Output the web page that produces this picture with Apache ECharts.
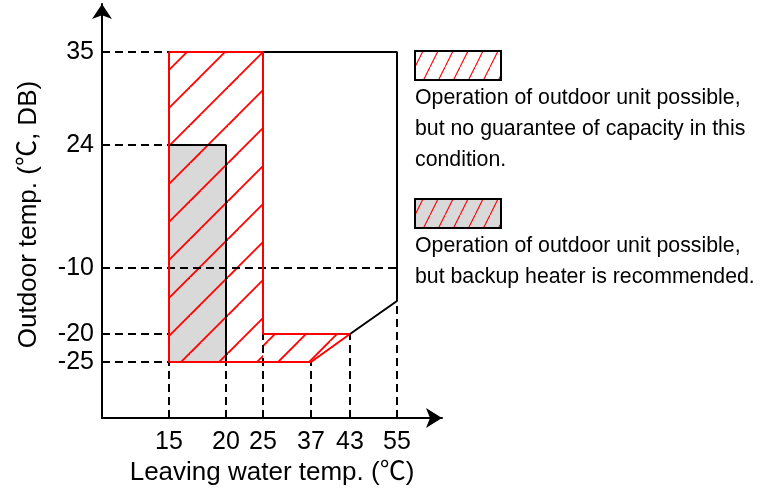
<!DOCTYPE html>
<html>
<head>
<meta charset="utf-8">
<script src="https://cdn.jsdelivr.net/npm/echarts@6/dist/echarts.min.js"></script>
<style>
  html, body { margin: 0; padding: 0; background: #fff; }
  #chart { width: 773px; height: 501px; }
</style>
</head>
<body>
<div id="chart"></div>
<script>
// tick values (leaving water temp / outdoor temp)
const xTicks = [15, 20, 25, 37, 43, 55]
const yTicks = [-25, -20, -10, 24, 35]

// zones, [leaving water, outdoor]
const hatchMain = [[15, 35], [25, 35], [25, -25], [15, -25]]
const hatchStrip = [[25, -20], [43, -20], [37, -25], [25, -25]]
const hatchOutline = [[15, 35], [25, 35], [25, -20], [43, -20], [37, -25], [15, -25], [15, 35]]
const backupZone = [[15, 24], [20, 24], [20, -25], [15, -25]]
const backupEdge = [[15, 24], [20, 24], [20, -25]]
const outerEdge = [[25, 35], [55, 35], [55, -15], [43, -20]]

// dashed guides: [outdoor, leaving water end] and [leaving water, outdoor end]
const hGuides = [[35, 15], [24, 15], [-10, 55], [-20, 15], [-25, 15]]
const vGuides = [[15, -25], [20, -25], [25, -20], [37, -25], [43, -20], [55, -15]]

const legendTexts = [
  ['Operation of outdoor unit possible,', 'but no guarantee of capacity in this', 'condition.'],
  ['Operation of outdoor unit possible,', 'but backup heater is recommended.'],
]

// axis is not linear in the original, so ticks sit on fixed slots
const xSlots = [67, 124, 161, 209, 248, 295]
const ySlots = [56, 84, 150, 273, 366]

function interp(v, ticks, slots) {
  for (let i = 0; i < ticks.length - 1; i++) {
    if (v <= ticks[i + 1] || i === ticks.length - 2) {
      return slots[i] + (v - ticks[i]) * (slots[i + 1] - slots[i]) / (ticks[i + 1] - ticks[i])
    }
  }
}
const toX = (v) => interp(v, xTicks, xSlots)
const toY = (v) => interp(v, yTicks, ySlots)
const toXY = (p) => [toX(p[0]), toY(p[1])]

// hatch tiles
function hatchTile(w, h, segs, bg, lw) {
  const c = document.createElement('canvas')
  c.width = w
  c.height = h
  const ctx = c.getContext('2d')
  if (bg) {
    ctx.fillStyle = bg
    ctx.fillRect(0, 0, w, h)
  }
  ctx.strokeStyle = '#ff0000'
  ctx.lineWidth = lw
  segs.forEach((s) => {
    ctx.beginPath()
    ctx.moveTo(s[0], s[1])
    ctx.lineTo(s[2], s[3])
    ctx.stroke()
  })
  return { image: c, repeat: 'repeat' }
}
// 45 deg lines, x + y = 11 (mod 38)
const hatchA = hatchTile(38, 38, [[0, 11, 11, 0], [0, 49, 49, 0]], null, 1.8)
// 45 deg lines, x + y = 20 (mod 31)
const hatchB = hatchTile(31, 31, [[0, 20, 20, 0], [0, 51, 51, 0]], null, 1.8)
// legend lines, steeper and thinner
const legHatch = [[0, 16, 15, -14], [0, 46, 15, 16]]
const legendA = hatchTile(15, 30, legHatch, '#ffffff', 1.1)
const legendB = hatchTile(15, 30, legHatch, '#d9d9d9', 1.1)

const font = "'Liberation Sans', Arial, 'Noto Sans CJK SC', sans-serif"

function areaSeries(points, fill) {
  return {
    type: 'custom',
    coordinateSystem: 'cartesian2d',
    silent: true,
    data: [[0, 0]],
    renderItem: (params, api) => ({
      type: 'polygon',
      shape: { points: points.map((p) => api.coord(toXY(p))) },
      style: { fill: fill, stroke: null },
    }),
  }
}

function lineSeries(points, color) {
  return {
    type: 'line',
    silent: true,
    symbol: 'none',
    data: points.map(toXY),
    lineStyle: { color: color, width: 2 },
  }
}

function guideSeries(a, b) {
  return {
    type: 'line',
    silent: true,
    symbol: 'none',
    data: [a, b],
    lineStyle: { color: '#000', width: 2, type: [8, 5] },
  }
}

const series = [
  areaSeries(backupZone, '#d9d9d9'),
  areaSeries(hatchMain, hatchA),
  areaSeries(hatchStrip, hatchB),
]
hGuides.forEach((g) => {
  series.push(guideSeries([0, toY(g[0])], [toX(g[1]), toY(g[0])]))
})
vGuides.forEach((g) => {
  series.push(guideSeries([toX(g[0]), 0], [toX(g[0]), toY(g[1])]))
})
series.push(lineSeries(backupEdge, '#000'))
series.push(lineSeries(outerEdge, '#000'))
series.push(lineSeries(hatchOutline, '#ff0000'))

function pickTick(v, ticks, slots) {
  let best = 0
  slots.forEach((s, i) => {
    if (Math.abs(s - v) < Math.abs(slots[best] - v)) best = i
  })
  return String(ticks[best])
}

const legendGraphics = []
const legendBoxTop = [50, 198]
const legendFills = [legendA, legendB]
legendTexts.forEach((lines, i) => {
  legendGraphics.push({
    type: 'rect',
    left: 414, top: legendBoxTop[i],
    shape: { width: 86, height: 29 },
    style: { fill: legendFills[i], stroke: '#000', lineWidth: 2 },
  })
  legendGraphics.push({
    type: 'text',
    left: 415, top: legendBoxTop[i] + 33,
    style: {
      text: lines.join('\n'),
      font: '21.3px ' + font,
      lineHeight: 31,
      fill: '#000',
    },
  })
})

const chart = echarts.init(document.getElementById('chart'), null, { renderer: 'canvas' })
chart.setOption({
  animation: false,
  backgroundColor: '#fff',
  grid: { left: 102, top: 4, right: 331, bottom: 83, containLabel: false, outerBoundsMode: 'none' },
  xAxis: {
    type: 'value',
    min: 0,
    max: 340,
    name: 'Leaving water temp. (℃)',
    nameLocation: 'middle',
    nameGap: 36,
    nameTextStyle: { fontSize: 26, color: '#000', fontFamily: font },
    axisLine: { show: true, symbol: ['none', 'arrow'], symbolSize: [15, 16], lineStyle: { color: '#000', width: 2 } },
    axisTick: { show: false },
    splitLine: { show: false },
    axisLabel: {
      customValues: xSlots,
      formatter: (v) => pickTick(v, xTicks, xSlots),
      fontSize: 25,
      color: '#000',
      fontFamily: font,
      margin: 12,
      hideOverlap: false,
    },
  },
  yAxis: {
    type: 'value',
    min: 0,
    max: 414,
    name: 'Outdoor temp. (℃, DB)',
    nameLocation: 'middle',
    nameRotate: 90,
    nameGap: 60,
    nameTextStyle: { fontSize: 26, color: '#000', fontFamily: font, padding: [0, 7, 0, 0] },
    axisLine: { show: true, symbol: ['none', 'arrow'], symbolSize: [15, 15], lineStyle: { color: '#000', width: 2 } },
    axisTick: { show: false },
    splitLine: { show: false },
    axisLabel: {
      customValues: ySlots,
      formatter: (v) => pickTick(v, yTicks, ySlots),
      fontSize: 25,
      color: '#000',
      fontFamily: font,
      margin: 8,
      hideOverlap: false,
    },
  },
  graphic: legendGraphics,
  series: series,
})
</script>
</body>
</html>
